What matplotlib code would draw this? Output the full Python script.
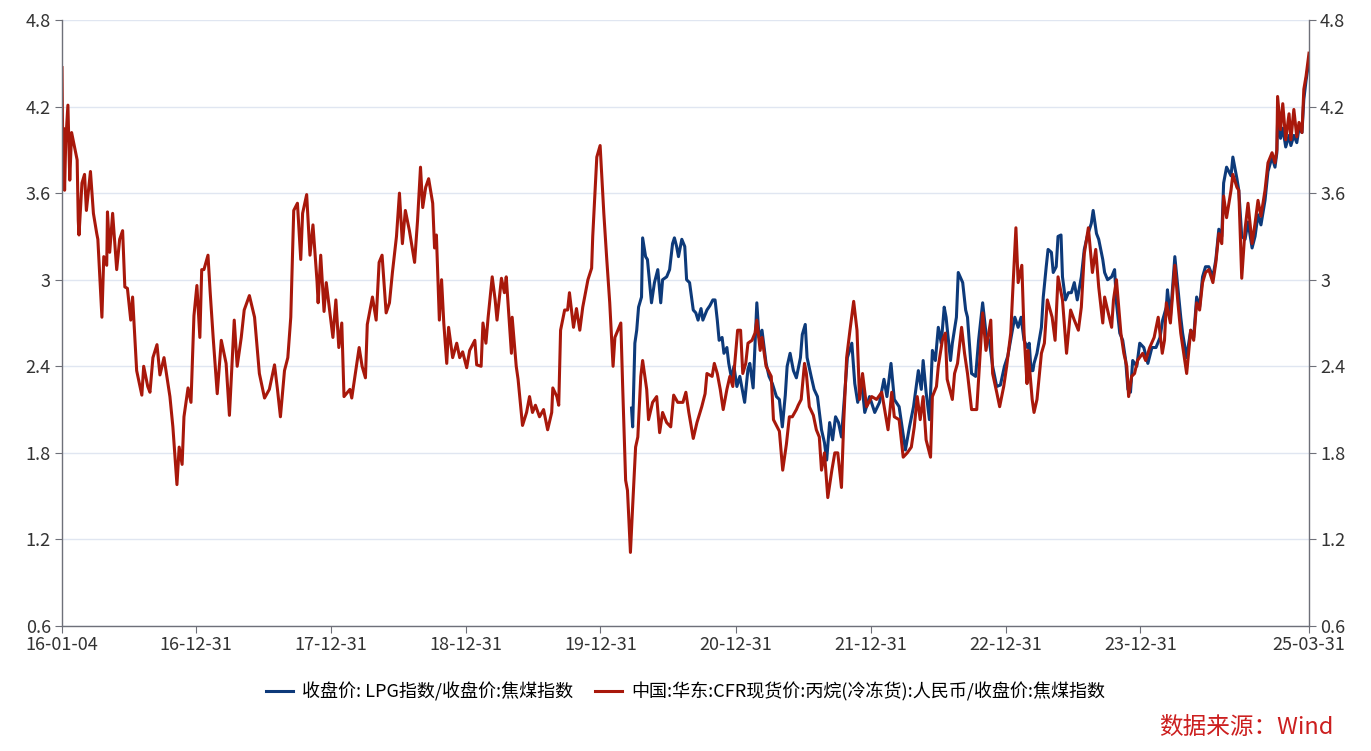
import matplotlib
matplotlib.use("Agg")
import matplotlib.pyplot as plt
import matplotlib.dates as mdates
import pandas as pd

plt.rcParams['font.family'] = ['Noto Sans CJK SC', 'DejaVu Sans']

# 丙烷/焦煤 (red), full range
red_dates = [
    "2016-01-04", "2016-01-06", "2016-01-08", "2016-01-11", "2016-01-14", "2016-01-20", "2016-01-25", "2016-01-30",
    "2016-02-03", "2016-02-14", "2016-02-17", "2016-02-19", "2016-02-27", "2016-03-05", "2016-03-10", "2016-03-21",
    "2016-03-29", "2016-04-07", "2016-04-10", "2016-04-21", "2016-04-26", "2016-05-04", "2016-05-06", "2016-05-12",
    "2016-05-20", "2016-05-31", "2016-06-08", "2016-06-16", "2016-06-22", "2016-06-29", "2016-07-08", "2016-07-13",
    "2016-07-24", "2016-08-07", "2016-08-12", "2016-08-23", "2016-08-29", "2016-09-06", "2016-09-17", "2016-09-25",
    "2016-10-06", "2016-10-22", "2016-10-30", "2016-11-10", "2016-11-16", "2016-11-24", "2016-11-29", "2016-12-10",
    "2016-12-18", "2016-12-26",
    "2017-01-03", "2017-01-11", "2017-01-16", "2017-01-22", "2017-02-02", "2017-02-08", "2017-02-16", "2017-02-27",
    "2017-03-10", "2017-03-23", "2017-04-01", "2017-04-14", "2017-04-22", "2017-05-03", "2017-05-11", "2017-05-25",
    "2017-06-08", "2017-06-21", "2017-07-05", "2017-07-18", "2017-08-01", "2017-08-09", "2017-08-17", "2017-08-28",
    "2017-09-06", "2017-09-14", "2017-09-22", "2017-10-02", "2017-10-11", "2017-10-16", "2017-10-27", "2017-11-05",
    "2017-11-13", "2017-11-24", "2017-11-27", "2017-12-04", "2017-12-13", "2017-12-19",
    "2018-01-06", "2018-01-14", "2018-01-22", "2018-01-30", "2018-02-05", "2018-02-21", "2018-02-26", "2018-03-10",
    "2018-03-18", "2018-03-26", "2018-04-04", "2018-04-09", "2018-04-23", "2018-05-03", "2018-05-11", "2018-05-19",
    "2018-05-30", "2018-06-08", "2018-06-16", "2018-06-27", "2018-07-05", "2018-07-13", "2018-07-21", "2018-08-01",
    "2018-08-15", "2018-08-23", "2018-08-31", "2018-09-06", "2018-09-14", "2018-09-22", "2018-10-03", "2018-10-08",
    "2018-10-13", "2018-10-21", "2018-10-27", "2018-11-02", "2018-11-10", "2018-11-15", "2018-11-26", "2018-12-07",
    "2018-12-15", "2018-12-23",
    "2019-01-03", "2019-01-11", "2019-01-25", "2019-01-30", "2019-02-11", "2019-02-16", "2019-02-24", "2019-03-02",
    "2019-03-13", "2019-03-21", "2019-03-26", "2019-04-07", "2019-04-15", "2019-04-20", "2019-05-04", "2019-05-06",
    "2019-05-17", "2019-05-22", "2019-06-03", "2019-06-14", "2019-06-22", "2019-06-30", "2019-07-08", "2019-07-19",
    "2019-07-30", "2019-08-10", "2019-08-21", "2019-08-24", "2019-09-04", "2019-09-09", "2019-09-14", "2019-09-25",
    "2019-10-03", "2019-10-08", "2019-10-19", "2019-10-27", "2019-11-05", "2019-11-13", "2019-11-27", "2019-12-07",
    "2019-12-10", "2019-12-21", "2019-12-30",
    "2020-01-09", "2020-01-17", "2020-01-25", "2020-02-03", "2020-02-08", "2020-02-24", "2020-02-29", "2020-03-08",
    "2020-03-13", "2020-03-21", "2020-03-27", "2020-04-04", "2020-04-10", "2020-04-18", "2020-04-23", "2020-05-04",
    "2020-05-09", "2020-05-20", "2020-05-31", "2020-06-08", "2020-06-16", "2020-06-27", "2020-07-08", "2020-07-16",
    "2020-07-27", "2020-08-10", "2020-08-18", "2020-08-26", "2020-09-07", "2020-09-17", "2020-09-30", "2020-10-09",
    "2020-10-14", "2020-10-28", "2020-11-03", "2020-11-11", "2020-11-19", "2020-11-27", "2020-12-07", "2020-12-15",
    "2020-12-23",
    "2021-01-05", "2021-01-13", "2021-01-19", "2021-01-27", "2021-02-02", "2021-02-13", "2021-02-21", "2021-02-26",
    "2021-03-07", "2021-03-12", "2021-03-23", "2021-04-06", "2021-04-12", "2021-04-20", "2021-04-28", "2021-05-07",
    "2021-05-17", "2021-05-25", "2021-06-02", "2021-06-13", "2021-06-18", "2021-06-26", "2021-07-05", "2021-07-10",
    "2021-07-18", "2021-07-29", "2021-08-06", "2021-08-14", "2021-08-20", "2021-08-28", "2021-09-06", "2021-09-17",
    "2021-09-25", "2021-10-03", "2021-10-13", "2021-10-19", "2021-10-27", "2021-11-05", "2021-11-15", "2021-11-24",
    "2021-12-01", "2021-12-09", "2021-12-20",
    "2022-01-03", "2022-01-16", "2022-01-30", "2022-02-08", "2022-02-16", "2022-02-26", "2022-03-05", "2022-03-18",
    "2022-03-29", "2022-04-09", "2022-04-20", "2022-04-28", "2022-05-06", "2022-05-14", "2022-05-22", "2022-05-30",
    "2022-06-11", "2022-06-16", "2022-06-27", "2022-07-02", "2022-07-13", "2022-07-21", "2022-07-26", "2022-08-09",
    "2022-08-15", "2022-08-23", "2022-09-03", "2022-09-11", "2022-09-19", "2022-09-30", "2022-10-14", "2022-10-22",
    "2022-10-30", "2022-11-08", "2022-11-21", "2022-11-26", "2022-12-07", "2022-12-15", "2022-12-26",
    "2023-01-03", "2023-01-14", "2023-01-20", "2023-01-28", "2023-02-03", "2023-02-13", "2023-02-19", "2023-02-27",
    "2023-03-02", "2023-03-13", "2023-03-18", "2023-03-26", "2023-04-07", "2023-04-15", "2023-04-23", "2023-05-06",
    "2023-05-14", "2023-05-22", "2023-06-03", "2023-06-14", "2023-06-25", "2023-07-05", "2023-07-16", "2023-07-24",
    "2023-08-01", "2023-08-12", "2023-08-23", "2023-09-01", "2023-09-09", "2023-09-20", "2023-09-25", "2023-10-03",
    "2023-10-14", "2023-10-19", "2023-10-27", "2023-11-08", "2023-11-16", "2023-11-24", "2023-11-29", "2023-12-07",
    "2023-12-15", "2023-12-23",
    "2024-01-06", "2024-01-14", "2024-01-25", "2024-02-06", "2024-02-17", "2024-02-28", "2024-03-05", "2024-03-10",
    "2024-03-21", "2024-04-02", "2024-04-10", "2024-04-18", "2024-04-26", "2024-05-04", "2024-05-15", "2024-05-23",
    "2024-05-31", "2024-06-08", "2024-06-16", "2024-06-24", "2024-07-03", "2024-07-14", "2024-07-22", "2024-07-30",
    "2024-08-07", "2024-08-12", "2024-08-20", "2024-09-01", "2024-09-06", "2024-09-17", "2024-09-22", "2024-09-30",
    "2024-10-09", "2024-10-17", "2024-10-28", "2024-11-05", "2024-11-13", "2024-11-21", "2024-12-02", "2024-12-10",
    "2024-12-21", "2024-12-29",
    "2025-01-03", "2025-01-05", "2025-01-13", "2025-01-19", "2025-01-27", "2025-02-05", "2025-02-10", "2025-02-18",
    "2025-02-26", "2025-03-04", "2025-03-12", "2025-03-17", "2025-03-23", "2025-03-31",
]
red_vals = [
    4.47, 3.90, 4.05, 3.62, 3.95, 4.21, 3.69, 4.02,
    3.97, 3.83, 3.41, 3.31, 3.67, 3.73, 3.48, 3.75,
    3.46, 3.32, 3.28, 2.74, 3.16, 3.10, 3.47, 3.19,
    3.46, 3.07, 3.28, 3.34, 2.95, 2.94, 2.72, 2.88,
    2.37, 2.20, 2.40, 2.26, 2.22, 2.46, 2.55, 2.34,
    2.46, 2.19, 1.98, 1.58, 1.84, 1.72, 2.05, 2.25,
    2.15, 2.75,
    2.96, 2.60, 3.07, 3.07, 3.17, 2.91, 2.60, 2.21,
    2.58, 2.42, 2.06, 2.72, 2.40, 2.60, 2.79, 2.89,
    2.74, 2.35, 2.18, 2.24, 2.41, 2.24, 2.05, 2.37,
    2.46, 2.74, 3.48, 3.53, 3.14, 3.46, 3.59, 3.17,
    3.38, 2.99, 2.84, 3.17, 2.78, 2.98,
    2.60, 2.86, 2.53, 2.70, 2.19, 2.24, 2.18, 2.39,
    2.53, 2.40, 2.32, 2.69, 2.88, 2.72, 3.12, 3.17,
    2.77, 2.84, 3.05, 3.30, 3.60, 3.25, 3.48, 3.34,
    3.12, 3.41, 3.78, 3.50, 3.64, 3.70, 3.53, 3.22,
    3.31, 2.72, 3.00, 2.70, 2.42, 2.67, 2.46, 2.56,
    2.46, 2.50,
    2.39, 2.51, 2.58, 2.41, 2.40, 2.70, 2.56, 2.74,
    3.02, 2.86, 2.72, 3.01, 2.91, 3.02, 2.49, 2.74,
    2.40, 2.31, 1.99, 2.08, 2.19, 2.08, 2.13, 2.05,
    2.10, 1.96, 2.08, 2.25, 2.19, 2.13, 2.65, 2.79,
    2.79, 2.91, 2.67, 2.80, 2.65, 2.81, 3.00, 3.08,
    3.30, 3.85, 3.93,
    3.46, 3.14, 2.84, 2.40, 2.60, 2.70, 2.26, 1.61,
    1.54, 1.11, 1.43, 1.84, 1.91, 2.33, 2.44, 2.24,
    2.03, 2.15, 2.19, 1.94, 2.08, 2.01, 1.98, 2.20,
    2.15, 2.15, 2.22, 2.08, 1.90, 2.01, 2.12, 2.21,
    2.35, 2.33, 2.42, 2.35, 2.24, 2.10, 2.24, 2.33,
    2.26,
    2.65, 2.65, 2.35, 2.42, 2.56, 2.58, 2.63, 2.72,
    2.51, 2.60, 2.40, 2.33, 2.03, 1.99, 1.95, 1.68,
    1.86, 2.05, 2.05, 2.10, 2.13, 2.17, 2.42, 2.35,
    2.12, 2.06, 1.96, 1.91, 1.68, 1.80, 1.49, 1.68,
    1.80, 1.80, 1.56, 2.01, 2.46, 2.65, 2.85, 2.65,
    2.17, 2.35, 2.12,
    2.19, 2.17, 2.22, 2.08, 1.96, 2.22, 2.05, 2.03,
    1.77, 1.80, 1.84, 1.98, 2.19, 2.03, 2.19, 1.89,
    1.77, 2.19, 2.26, 2.40, 2.58, 2.63, 2.31, 2.17,
    2.35, 2.42, 2.67, 2.49, 2.35, 2.10, 2.10, 2.44,
    2.77, 2.51, 2.72, 2.35, 2.22, 2.12, 2.26,
    2.40, 2.63, 2.95, 3.36, 2.98, 3.10, 2.63, 2.28,
    2.51, 2.17, 2.08, 2.17, 2.49, 2.56, 2.86, 2.74,
    2.58, 3.02, 2.86, 2.49, 2.79, 2.72, 2.65, 2.81,
    3.18, 3.36, 3.05, 3.21, 2.95, 2.70, 2.88, 2.79,
    2.67, 2.86, 3.00, 2.63, 2.49, 2.40, 2.19, 2.33,
    2.35, 2.44,
    2.49, 2.44, 2.53, 2.60, 2.74, 2.49, 2.58, 2.84,
    2.70, 3.10, 2.85, 2.63, 2.49, 2.35, 2.65, 2.58,
    2.84, 2.79, 2.98, 3.05, 3.07, 2.98, 3.12, 3.32,
    3.25, 3.58, 3.43, 3.62, 3.73, 3.64, 3.62, 3.01,
    3.35, 3.53, 3.25, 3.39, 3.55, 3.44, 3.62, 3.81,
    3.88, 3.81,
    3.90, 4.27, 4.04, 4.22, 3.97, 4.15, 3.97, 4.18,
    3.99, 4.09, 4.02, 4.32, 4.41, 4.57,
]

# LPG指数/焦煤 (blue), from 2020-03
blue_dates = [
    "2020-03-24", "2020-03-27", "2020-04-02", "2020-04-07", "2020-04-12", "2020-04-20", "2020-04-23", "2020-05-01",
    "2020-05-06", "2020-05-17", "2020-05-25", "2020-06-03", "2020-06-11", "2020-06-16", "2020-06-27", "2020-07-05",
    "2020-07-13", "2020-07-18", "2020-07-24", "2020-07-29", "2020-08-07", "2020-08-15", "2020-08-20", "2020-08-28",
    "2020-09-07", "2020-09-14", "2020-09-20", "2020-09-28", "2020-10-03", "2020-10-14", "2020-10-22", "2020-10-30",
    "2020-11-05", "2020-11-11", "2020-11-16", "2020-11-24", "2020-11-29", "2020-12-07", "2020-12-12", "2020-12-20",
    "2020-12-26",
    "2021-01-03", "2021-01-11", "2021-01-19", "2021-01-24", "2021-02-02", "2021-02-07", "2021-02-16", "2021-02-26",
    "2021-03-04", "2021-03-12", "2021-03-23", "2021-03-31", "2021-04-09", "2021-04-20", "2021-04-28", "2021-05-06",
    "2021-05-14", "2021-05-19", "2021-05-27", "2021-06-05", "2021-06-13", "2021-06-24", "2021-06-29", "2021-07-07",
    "2021-07-12", "2021-07-23", "2021-07-31", "2021-08-09", "2021-08-20", "2021-08-28", "2021-09-03", "2021-09-11",
    "2021-09-19", "2021-09-27", "2021-10-05", "2021-10-13", "2021-10-19", "2021-10-29", "2021-11-10", "2021-11-18",
    "2021-11-26", "2021-12-07", "2021-12-15", "2021-12-28",
    "2022-01-11", "2022-01-24", "2022-02-05", "2022-02-13", "2022-02-24", "2022-03-05", "2022-03-18", "2022-04-04",
    "2022-04-15", "2022-04-26", "2022-05-09", "2022-05-17", "2022-05-22", "2022-05-30", "2022-06-08", "2022-06-16",
    "2022-06-24", "2022-07-02", "2022-07-10", "2022-07-18", "2022-07-23", "2022-08-04", "2022-08-09", "2022-08-20",
    "2022-08-25", "2022-09-06", "2022-09-14", "2022-09-19", "2022-09-30", "2022-10-11", "2022-10-19", "2022-10-30",
    "2022-11-08", "2022-11-18", "2022-11-26", "2022-12-07", "2022-12-17", "2022-12-28",
    "2023-01-06", "2023-01-17", "2023-01-25", "2023-02-03", "2023-02-11", "2023-02-19", "2023-02-28", "2023-03-05",
    "2023-03-10", "2023-03-15", "2023-03-18", "2023-03-26", "2023-04-07", "2023-04-12", "2023-04-20", "2023-04-25",
    "2023-05-04", "2023-05-09", "2023-05-17", "2023-05-22", "2023-05-30", "2023-06-03", "2023-06-11", "2023-06-19",
    "2023-06-27", "2023-07-05", "2023-07-13", "2023-07-24", "2023-08-01", "2023-08-09", "2023-08-20", "2023-08-25",
    "2023-09-03", "2023-09-09", "2023-09-20", "2023-09-25", "2023-10-03", "2023-10-14", "2023-10-22", "2023-10-27",
    "2023-11-05", "2023-11-13", "2023-11-21", "2023-11-27", "2023-12-04", "2023-12-10", "2023-12-21", "2023-12-29",
    "2024-01-09", "2024-01-20", "2024-01-31", "2024-02-11", "2024-02-22", "2024-02-29", "2024-03-10", "2024-03-13",
    "2024-03-21", "2024-04-02", "2024-04-10", "2024-04-18", "2024-04-23", "2024-05-04", "2024-05-09", "2024-05-15",
    "2024-05-23", "2024-05-31", "2024-06-08", "2024-06-16", "2024-06-24", "2024-07-03", "2024-07-14", "2024-07-22",
    "2024-07-30", "2024-08-07", "2024-08-12", "2024-08-20", "2024-09-01", "2024-09-06", "2024-09-17", "2024-09-22",
    "2024-09-30", "2024-10-09", "2024-10-17", "2024-10-28", "2024-11-05", "2024-11-13", "2024-11-21", "2024-12-02",
    "2024-12-10", "2024-12-21", "2024-12-29",
    "2025-01-03", "2025-01-05", "2025-01-13", "2025-01-19", "2025-01-27", "2025-02-05", "2025-02-10", "2025-02-18",
    "2025-02-26", "2025-03-04", "2025-03-12", "2025-03-17", "2025-03-23", "2025-03-31",
]
blue_vals = [
    2.11, 1.98, 2.56, 2.65, 2.81, 2.88, 3.29, 3.16,
    3.14, 2.84, 2.98, 3.07, 2.84, 3.00, 3.02, 3.07,
    3.25, 3.29, 3.23, 3.16, 3.28, 3.23, 3.00, 2.98,
    2.79, 2.77, 2.72, 2.80, 2.72, 2.79, 2.82, 2.86,
    2.86, 2.72, 2.58, 2.60, 2.49, 2.53, 2.42, 2.31,
    2.40,
    2.26, 2.33, 2.22, 2.15, 2.38, 2.42, 2.25, 2.84,
    2.60, 2.65, 2.42, 2.33, 2.28, 2.19, 2.17, 1.98,
    2.20, 2.40, 2.49, 2.37, 2.32, 2.46, 2.62, 2.69,
    2.46, 2.33, 2.24, 2.19, 1.96, 1.87, 1.75, 2.01,
    1.89, 2.05, 2.01, 1.91, 2.12, 2.46, 2.56, 2.28,
    2.15, 2.28, 2.08, 2.19,
    2.08, 2.15, 2.31, 2.19, 2.42, 2.17, 2.12, 1.82,
    1.98, 2.12, 2.37, 2.24, 2.44, 2.22, 2.03, 2.51,
    2.44, 2.67, 2.56, 2.81, 2.74, 2.44, 2.56, 2.74,
    3.05, 2.98, 2.79, 2.74, 2.35, 2.33, 2.58, 2.84,
    2.63, 2.56, 2.40, 2.26, 2.27, 2.40,
    2.47, 2.63, 2.74, 2.67, 2.74, 2.58, 2.53, 2.56,
    2.37, 2.37, 2.42, 2.49, 2.67, 2.88, 3.09, 3.21,
    3.19, 3.05, 3.09, 3.30, 3.31, 3.02, 2.86, 2.91,
    2.91, 2.98, 2.86, 3.02, 3.21, 3.30, 3.39, 3.48,
    3.32, 3.28, 3.14, 3.05, 3.00, 3.02, 3.07, 2.84,
    2.63, 2.58, 2.44, 2.24, 2.22, 2.44, 2.40, 2.56,
    2.53, 2.42, 2.53, 2.53, 2.60, 2.72, 2.81, 2.93,
    2.74, 3.16, 2.95, 2.74, 2.63, 2.46, 2.55, 2.65,
    2.60, 2.88, 2.81, 3.02, 3.09, 3.09, 3.02, 3.14,
    3.35, 3.30, 3.67, 3.78, 3.72, 3.85, 3.70, 3.62,
    3.30, 3.28, 3.40, 3.22, 3.30, 3.45, 3.38, 3.55,
    3.75, 3.85, 3.78,
    3.88, 4.10, 3.98, 4.05, 3.92, 4.00, 3.93, 4.00,
    3.95, 4.05, 4.02, 4.25, 4.38, 4.52,
]

blue_label = "收盘价: LPG指数/收盘价:焦煤指数"
red_label = "中国:华东:CFR现货价:丙烷(冷冻货):人民币/收盘价:焦煤指数"

x_ticks = ["2016-01-04", "2016-12-31", "2017-12-31", "2018-12-31", "2019-12-31",
           "2020-12-31", "2021-12-31", "2022-12-31", "2023-12-31", "2025-03-31"]
y_ticks = [0.6, 1.2, 1.8, 2.4, 3.0, 3.6, 4.2, 4.8]
y_labels = ["0.6", "1.2", "1.8", "2.4", "3", "3.6", "4.2", "4.8"]

fig = plt.figure(figsize=(13.71, 7.51), dpi=100)
ax = fig.add_axes([62/1371, 1 - 626/751, (1309-62)/1371, (626-20)/751])

ax.plot(pd.to_datetime(blue_dates), blue_vals, color="#0d3a7a", lw=2.2, label=blue_label)
ax.plot(pd.to_datetime(red_dates), red_vals, color="#a8180b", lw=2.2, label=red_label)

ax.set_xlim(pd.Timestamp("2016-01-04"), pd.Timestamp("2025-03-31"))
ax.set_ylim(0.6, 4.8)
ax.set_xticks(pd.to_datetime(x_ticks))
ax.xaxis.set_major_formatter(mdates.DateFormatter("%y-%m-%d"))
ax.set_yticks(y_ticks)
ax.set_yticklabels(y_labels)

ax.grid(axis="y", color="#e0e6f1", lw=1)
ax.set_axisbelow(True)
ax.spines["top"].set_visible(False)
for s in ["left", "right", "bottom"]:
    ax.spines[s].set_color("#6e7079")
    ax.spines[s].set_linewidth(1)
ax.tick_params(axis="y", which="both", left=True, right=True, labelleft=True, labelright=True,
               length=5, color="#6e7079", labelsize=13, labelcolor="#333333", pad=3)
ax.tick_params(axis="x", length=5, color="#6e7079", labelsize=13, labelcolor="#333333", pad=2)

fig.legend(loc="center", bbox_to_anchor=(0.5, 1 - 692/751), ncol=2, frameon=False,
           fontsize=13, handlelength=1.5, columnspacing=1.2, handletextpad=0.5)
fig.text(1333/1371, 1 - 727/751, "数据来源：Wind", color="#cc1f1f", fontsize=17,
         ha="right", va="center")

fig.savefig("out.png", dpi=100)
